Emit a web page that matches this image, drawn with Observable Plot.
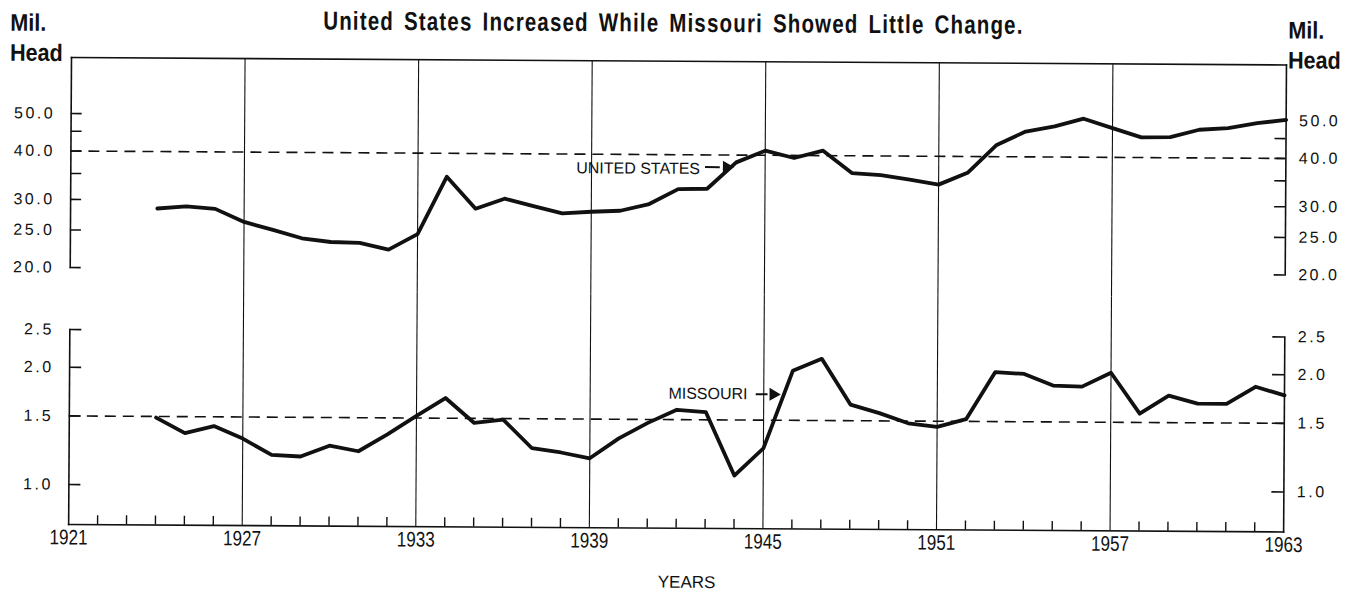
<!DOCTYPE html>
<html><head><meta charset="utf-8">
<script src="https://cdn.jsdelivr.net/npm/d3@7"></script>
<script src="https://cdn.jsdelivr.net/npm/@observablehq/plot@0.6"></script>
<style>
html,body{margin:0;padding:0;background:#fff;}
#page{position:relative;width:1351px;height:594px;transform:rotate(0.35deg);transform-origin:69px 57px;color:#111;}
#title{position:absolute;left:323px;top:6px;display:inline-block;font:bold 26px "Liberation Sans",Arial,sans-serif;letter-spacing:1.5px;word-spacing:4px;line-height:26px;white-space:nowrap;transform-origin:0 0;}
.unit{position:absolute;top:8px;font:bold 24px "Liberation Sans",Arial,sans-serif;line-height:30px;transform:scaleX(0.9);transform-origin:0 0;}
#unitL{left:10px;}
#unitR{left:1288px;}
#upper{position:absolute;left:0;top:0;}
#lower{position:absolute;left:0;top:290px;}
#xlabel{position:absolute;left:661px;top:570px;font:17px "Liberation Sans",Arial,sans-serif;line-height:17px;}
svg{display:block;overflow:visible;}
</style></head>
<body><div id="page">
<div id="title">United States Increased While Missouri Showed Little Change.</div>
<div class="unit" id="unitL">Mil.<br>Head</div>
<div class="unit" id="unitR">Mil.<br>Head</div>
<div id="upper"></div>
<div id="lower"></div>
<div id="xlabel">YEARS</div>
</div>
<script>
// ---- data ----
const years = [1924,1925,1926,1927,1928,1929,1930,1931,1932,1933,1934,1935,1936,1937,1938,1939,1940,1941,1942,1943,1944,1945,1946,1947,1948,1949,1950,1951,1952,1953,1954,1955,1956,1957,1958,1959,1960,1961,1962,1963];
const usValues = [28.5,28.9,28.5,26.4,25.2,24.0,23.5,23.4,22.5,24.7,34.8,28.8,30.6,29.3,28.1,28.4,28.6,29.8,32.6,32.7,38.3,41.1,39.4,41.2,36.1,35.7,34.8,33.8,36.3,42.9,46.5,48.0,50.3,47.6,45.1,45.2,47.3,47.8,49.3,50.3];
const moValues = [1.49,1.36,1.42,1.32,1.20,1.19,1.27,1.23,1.36,1.52,1.69,1.46,1.49,1.26,1.23,1.19,1.34,1.47,1.59,1.57,1.08,1.27,2.01,2.16,1.65,1.57,1.48,1.45,1.52,2.01,1.99,1.86,1.85,2.01,1.58,1.76,1.68,1.68,1.86,1.77];
const gridYears = [1927,1933,1939,1945,1951,1957];
const yearLabels = [1921,1927,1933,1939,1945,1951,1957,1963];
const minorYears = [1922,1923,1924,1925,1926,1928,1929,1930,1931,1932,1934,1935,1936,1937,1938,1940,1941,1942,1943,1944,1946,1947,1948,1949,1950,1952,1953,1954,1955,1956,1958,1959,1960,1961,1962];
const usTicks = [20,25,30,35,40,45,50];
const usTickLabels = [20,25,30,40,50];
const moTicks = [1.0,1.5,2.0,2.5];
const usReference = [40];
const moReference = [1.5];
const usLabel = [{text:"UNITED STATES", year:1942.75, value:36.8}];
const usArrow = [{x1:1942.94, x2:1943.45, head:1943.67, value:37.2}];
const moLabel = [{text:"MISSOURI", year:1944.44, value:1.749}];
const moArrow = [{x1:1944.74, x2:1945.15, head:1945.33, value:1.748}];

const usData = years.map((y,i)=>({year:y, value:usValues[i]}));
const moData = years.map((y,i)=>({year:y, value:moValues[i]}));

const W = 1351, ML = 71, MR = 65, FW = W - ML - MR;
const INK = "#111";
const tickFont = "Liberation Sans, Arial, sans-serif";
const fmt = d => d.toFixed(1);

function tickLabels(values) {
  return [
    Plot.text(values, {y: d => d, text: fmt, frameAnchor: "left", textAnchor: "end", dx: -16, fontSize: 16, fontFamily: tickFont, fill: INK, className: "ticklab"}),
    Plot.text(values, {y: d => d, text: fmt, frameAnchor: "right", textAnchor: "start", dx: 13, fontSize: 16, fontFamily: tickFont, fill: INK, className: "ticklab"})
  ];
}

// ---- upper panel (United States) ----
const upper = Plot.plot({
  width: W, height: 290,
  marginLeft: ML, marginRight: MR, marginTop: 57, marginBottom: 0,
  style: {background: "transparent", color: INK},
  x: {domain: [1921, 1963], axis: null},
  y: {type: "log", domain: [20, 50], range: [267, 113], axis: null},
  marks: [
    Plot.frame({anchor: "top", stroke: INK, strokeWidth: 1.6}),
    Plot.frame({anchor: "left", stroke: INK, strokeWidth: 1.6, insetBottom: 23}),
    Plot.frame({anchor: "right", stroke: INK, strokeWidth: 1.6, insetBottom: 23}),
    Plot.ruleX(gridYears, {stroke: INK, strokeWidth: 1.1}),
    Plot.tickY(usTicks, {stroke: INK, strokeWidth: 1.6, insetRight: FW - 11}),
    Plot.tickY(usTicks, {stroke: INK, strokeWidth: 1.6, insetLeft: FW - 11}),
    ...tickLabels(usTickLabels),
    Plot.ruleY(usReference, {stroke: INK, strokeWidth: 1.6, strokeDasharray: "11,7"}),
    Plot.line(usData, {x: "year", y: "value", stroke: INK, strokeWidth: 3.8, strokeLinejoin: "round", strokeLinecap: "round"}),
    Plot.text(usLabel, {x: "year", y: "value", text: "text", textAnchor: "end", fontSize: 16, fontFamily: tickFont, fill: INK}),
    Plot.ruleY(usArrow, {y: "value", x1: "x1", x2: "x2", stroke: INK, strokeWidth: 2}),
    Plot.dot(usArrow, {x: "head", y: "value", symbol: "triangle", rotate: 90, r: 4.8, fill: INK, stroke: "none"})
  ]
});

// ---- lower panel (Missouri) ----
const LH = 304, LMB = 70, LFH = LH - LMB;
const lower = Plot.plot({
  width: W, height: LH,
  marginLeft: ML, marginRight: MR, marginTop: 0, marginBottom: LMB,
  style: {background: "transparent", color: INK},
  x: {domain: [1921, 1963]},
  y: {type: "log", domain: [1, 2.5], range: [194, 39], axis: null},
  marks: [
    Plot.frame({anchor: "bottom", stroke: INK, strokeWidth: 1.6}),
    Plot.frame({anchor: "left", stroke: INK, strokeWidth: 1.6, insetTop: 39}),
    Plot.frame({anchor: "right", stroke: INK, strokeWidth: 1.6, insetTop: 39}),
    Plot.ruleX(gridYears, {stroke: INK, strokeWidth: 1.1}),
    Plot.ruleX(minorYears, {stroke: INK, strokeWidth: 1.4, insetTop: LFH - 9}),
    Plot.tickY(moTicks, {stroke: INK, strokeWidth: 1.6, insetRight: FW - 12}),
    Plot.tickY(moTicks, {stroke: INK, strokeWidth: 1.6, insetLeft: FW - 12}),
    ...tickLabels(moTicks),
    Plot.axisX(yearLabels, {anchor: "bottom", tickSize: 0, tickPadding: 5, tickFormat: d => String(d), fontSize: 21, fontFamily: tickFont, label: null}),
    Plot.ruleY(moReference, {stroke: INK, strokeWidth: 1.6, strokeDasharray: "11,7"}),
    Plot.line(moData, {x: "year", y: "value", stroke: INK, strokeWidth: 3.8, strokeLinejoin: "round", strokeLinecap: "round"}),
    Plot.text(moLabel, {x: "year", y: "value", text: "text", textAnchor: "end", fontSize: 16, fontFamily: tickFont, fill: INK}),
    Plot.ruleY(moArrow, {y: "value", x1: "x1", x2: "x2", stroke: INK, strokeWidth: 2}),
    Plot.dot(moArrow, {x: "head", y: "value", symbol: "triangle", rotate: 90, r: 4.8, fill: INK, stroke: "none"})
  ]
});

for (const svg of [upper, lower]) {
  d3.select(svg).selectAll("g.ticklab text").attr("letter-spacing", "2.5px");
}
d3.select(lower).selectAll('g[aria-label="x-axis tick label"] text')
  .attr("textLength", 38).attr("lengthAdjust", "spacingAndGlyphs");
document.getElementById("upper").appendChild(upper);
document.getElementById("lower").appendChild(lower);

// fit the title to the reference width
const title = document.getElementById("title");
const tw = title.offsetWidth;
title.style.transform = `scaleX(${700 / tw})`;
</script>
</body></html>
